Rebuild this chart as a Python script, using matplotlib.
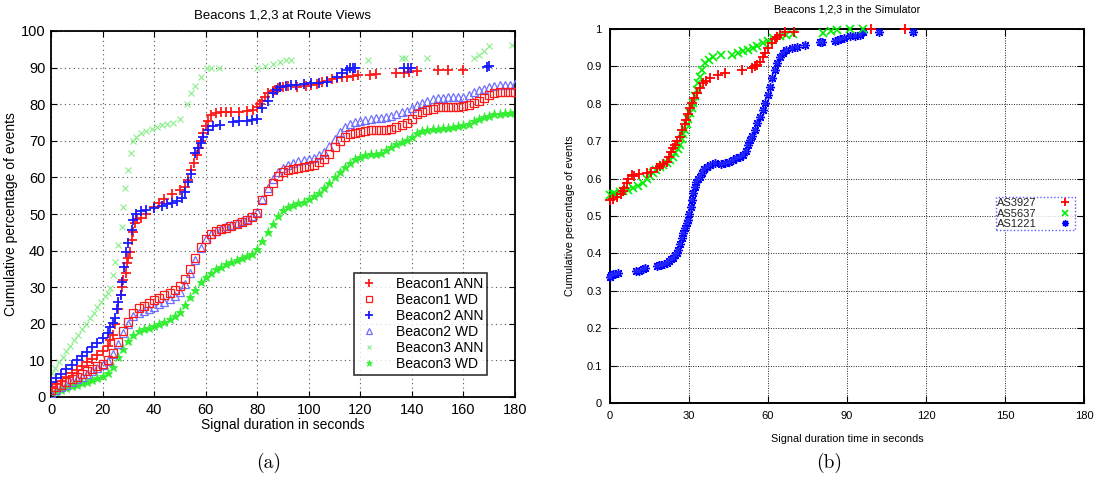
import matplotlib
matplotlib.use("Agg")
import matplotlib.pyplot as plt

plt.rcParams["font.family"] = ["Liberation Sans", "DejaVu Sans"]

# ---- panel (a): Beacons 1,2,3 at Route Views ----
wd_x = list(range(0, 182, 2))

b1_wd = [1.9, 2.6, 3.3, 4.0, 4.8, 5.5, 6.2, 7.0, 7.7, 8.4, 9.0, 10.0, 12.0, 15.0, 18.0, 20.5,
         23.0, 24.2, 24.9, 25.7, 26.5, 27.1, 27.8, 28.5, 29.2, 30.2, 32.2, 35.0, 38.0, 41.0,
         43.3, 44.6, 45.3, 45.8, 46.3, 46.8, 47.3, 47.8, 48.4, 49.2, 50.2, 53.8, 56.2, 58.5,
         60.3, 61.4, 61.9, 62.4, 62.7, 62.9, 63.2, 63.4, 64.2, 65.1, 66.5, 68.3, 69.9, 71.0,
         71.8, 72.2, 72.4, 72.8, 73.0, 73.0, 73.0, 73.0, 73.3, 73.9, 74.4, 75.0, 76.0, 77.2,
         77.9, 78.4, 78.8, 79.1, 79.2, 79.2, 79.2, 79.3, 79.4, 79.8, 80.4, 81.0, 81.8, 82.6,
         83.1, 83.3, 83.3, 83.3, 83.3]

b2_wd = [1.2, 1.9, 2.6, 3.3, 4.0, 4.8, 5.5, 6.3, 7.1, 8.0, 8.8, 9.8, 11.8, 14.6, 17.5, 20.0,
         22.0, 22.9, 23.4, 24.0, 24.6, 25.3, 26.0, 26.7, 27.5, 28.6, 30.8, 34.0, 37.5, 40.8,
         43.3, 44.6, 45.4, 46.0, 46.6, 47.1, 47.6, 48.1, 48.7, 49.5, 50.6, 54.0, 57.0, 59.6,
         61.6, 62.7, 63.3, 63.9, 64.4, 64.8, 65.1, 65.4, 66.1, 67.0, 68.6, 70.6, 72.4, 73.7,
         74.6, 75.1, 75.5, 75.8, 76.0, 76.2, 76.3, 76.5, 76.9, 77.4, 77.8, 78.2, 79.0, 79.8,
         80.4, 80.9, 81.3, 81.6, 81.8, 81.9, 82.0, 82.0, 82.1, 82.6, 83.3, 83.8, 84.2, 84.6,
         85.0, 85.2, 85.2, 85.3, 85.4]

b3_wd = [1.0, 1.5, 2.0, 2.4, 2.9, 3.3, 3.8, 4.2, 4.7, 5.2, 5.8, 6.6, 8.3, 11.0, 13.2, 15.3,
         17.0, 17.9, 18.5, 18.9, 19.4, 19.9, 20.5, 21.2, 22.0, 23.2, 25.2, 27.2, 29.2, 31.5,
         32.8, 34.0, 34.9, 35.6, 36.3, 37.0, 37.5, 38.0, 38.5, 39.2, 40.4, 42.5, 45.0, 47.4,
         49.4, 51.0, 51.9, 52.5, 52.9, 53.3, 54.0, 54.8, 55.7, 57.0, 58.5, 60.0, 61.5, 62.8,
         64.0, 64.9, 65.6, 66.0, 66.3, 66.5, 66.8, 67.5, 68.3, 69.0, 69.6, 70.2, 71.0, 72.0,
         72.8, 73.0, 73.2, 73.3, 73.4, 73.5, 73.8, 74.0, 74.2, 74.7, 75.4, 76.0, 76.5, 76.9,
         77.2, 77.4, 77.6, 77.7, 77.8]

b1_ann_x = [0, 2, 4, 6, 8, 10, 12, 14, 16, 18, 20, 22, 23, 24, 25, 26, 27, 27.5, 28, 29, 29.5,
            30, 30.7, 31.4, 32, 32.6, 33.5, 35, 37, 40, 42, 44, 47, 50, 52, 53.3, 54.5, 55.5,
            56.5, 57.5, 58, 59, 60, 61, 62, 64, 66, 68, 70, 73, 76, 78.5, 80, 81, 82, 83, 84,
            86, 87, 88, 89, 90, 92, 95.4, 99, 101, 103, 105, 107, 109, 111, 113, 115, 117, 119,
            123.7, 126, 134, 137, 139, 142, 150, 154, 160]
b1_ann_y = [2.5, 3.5, 4.5, 5.5, 6.5, 7.5, 8.5, 9.5, 10.5, 11.5, 12.5, 14, 15.5, 17, 20, 24, 28,
            30, 32, 34, 36.6, 38, 39.6, 43, 45, 47.5, 48.5, 49, 50, 52, 53, 54, 55.5, 56.6, 57.5,
            59.3, 62, 64, 66, 68, 70, 72, 74, 75.5, 77, 77.5, 77.8, 78, 78, 78, 78.2, 78.4, 79.2,
            80, 81, 82, 83, 83.5, 84, 84.3, 84.6, 84.8, 85, 84.7, 85, 85.2, 85.6, 86, 86.4, 86.8,
            87.2, 87.5, 87.5, 87.8, 88, 88, 88.3, 88.5, 88.6, 88.8, 89, 89.3, 89.3, 89.3]

b2_ann_x = [0, 2, 4, 6, 8, 10, 12, 14, 16, 18, 20, 22, 23, 24, 24.8, 25.5, 26, 27, 27.6, 28.4,
            29, 30, 31.4, 31.8, 33, 35, 37, 40, 43, 45, 47, 49, 51, 52, 53, 54.5, 56, 57, 58, 59,
            61, 63, 65.6, 70.7, 73, 76, 78, 80, 82, 84, 86, 87.5, 89, 91, 93, 95, 98, 101, 104,
            107, 111, 113, 115, 116, 117, 118, 137, 138.5, 139.6, 169, 170]
b2_ann_y = [4.2, 5.2, 6.4, 7.6, 8.8, 10, 11.2, 12.4, 13.6, 14.8, 16, 17.6, 19, 20.3, 21.6, 24,
            26, 28, 31.5, 35.6, 39.6, 42, 45.6, 48.4, 50, 50.8, 51.2, 51.7, 52.2, 52.6, 53, 53.5,
            54.5, 56, 58.7, 61, 66.6, 68, 69.4, 71, 73, 74, 74.3, 75.2, 75.3, 75.5, 75.6, 76, 79,
            81, 83, 84, 84.7, 85, 85.2, 85.3, 85.5, 85.8, 85.8, 86, 87.5, 88.5, 89.3, 89.8, 90,
            90, 90, 89.9, 89.9, 90.3, 90.5]

b3_ann_x = [0.3, 1.5, 3, 4.5, 6, 7.5, 9, 10.5, 12, 13.5, 15, 16.5, 18, 19.5, 21, 22, 23, 24, 25,
            26, 27.5, 28, 28.7, 30, 31, 32, 33, 35, 37, 39, 41, 43, 45, 47.5, 50, 52.6, 54.5, 56,
            58, 60.4, 62, 65, 80, 83, 86, 89, 91, 93, 123, 136, 137.5, 146, 164, 166, 168, 170,
            179]
b3_ann_y = [6.6, 8, 9.5, 11, 12.5, 14, 15.5, 17, 18.5, 20, 21.5, 23, 24.5, 26, 27.5, 28.5, 29.8,
            33.3, 37, 41.5, 46.4, 52, 57, 62, 66.6, 70, 71, 72, 72.8, 73.3, 73.8, 74.2, 74.6, 75,
            76, 80, 83, 85, 87.4, 90, 90, 90, 90, 90.5, 91, 91.5, 92, 92, 92, 92.6, 92.6, 92.5,
            92.6, 93.5, 94.5, 96, 96.2]

# ---- panel (b): Beacons 1,2,3 in the Simulator ----
as3927_x = [0, 1, 2.5, 4, 5, 5.5, 6.3, 7, 8.2, 9, 11, 14, 15.5, 17.7, 19, 20.3, 21.5, 22.5, 23.3,
            24, 24.8, 25.6, 26.6, 27.5, 28.3, 29, 29.7, 30.3, 31, 32, 33, 34.2, 35.4, 36.5, 38,
            41, 43.7, 50, 53.8, 55, 56, 57, 58, 58.9, 60, 61.4, 62.5, 63.5, 64.6, 66.4, 70, 99,
            112]
as3927_y = [0.543, 0.546, 0.552, 0.56, 0.566, 0.575, 0.588, 0.6, 0.61, 0.608, 0.612, 0.615,
            0.618, 0.628, 0.634, 0.64, 0.645, 0.658, 0.67, 0.682, 0.69, 0.7, 0.712, 0.73, 0.745,
            0.757, 0.772, 0.788, 0.802, 0.816, 0.829, 0.843, 0.855, 0.862, 0.869, 0.877, 0.882,
            0.89, 0.895, 0.9, 0.905, 0.912, 0.925, 0.935, 0.948, 0.962, 0.972, 0.978, 0.984,
            0.992, 0.993, 1.0, 1.0]

as5637_x = [0, 1, 2, 3.8, 5, 7, 8.8, 10.5, 12.7, 14, 15.3, 16.4, 17.5, 19, 20.2, 21.5, 22.8, 24,
            24.8, 25.8, 26.6, 27.2, 27.9, 28.5, 29.1, 29.8, 30.4, 31, 31.6, 32.3, 33, 33.6, 34.2,
            35, 36, 37.5, 39.2, 42, 46.2, 48.5, 50.6, 52.5, 54.4, 56, 58, 60, 62, 64.5, 67, 69.6,
            81, 84, 86.3, 91, 96]
as5637_y = [0.556, 0.558, 0.56, 0.565, 0.567, 0.57, 0.575, 0.58, 0.588, 0.598, 0.607, 0.615,
            0.622, 0.63, 0.637, 0.643, 0.65, 0.658, 0.668, 0.68, 0.69, 0.705, 0.718, 0.73, 0.745,
            0.76, 0.775, 0.788, 0.802, 0.82, 0.837, 0.855, 0.872, 0.89, 0.909, 0.918, 0.926,
            0.93, 0.93, 0.935, 0.94, 0.945, 0.949, 0.955, 0.962, 0.969, 0.976, 0.98, 0.984,
            0.986, 0.99, 0.995, 0.997, 1.0, 1.0]

as1221_x = [0, 0.5, 1, 2, 3.2, 10, 11, 12.5, 13.3, 17.7, 18.5, 19.5, 20.5, 21.5, 22.5, 23.3, 24,
            24.8, 25.5, 26, 26.6, 27.2, 27.8, 28.5, 29.1, 29.6, 30.1, 30.6, 31.1, 31.6, 32.2,
            32.8, 33.5, 34.2, 35, 35.8, 36.7, 38, 39.9, 42, 43.7, 45, 46.8, 48, 49.3, 50.6, 51.5,
            52.5, 53.2, 54, 55, 56, 57, 58, 59, 59.9, 60.8, 61.7, 62.7, 63.6, 64.6, 65.8, 67, 69,
            70.9, 74, 79.8, 80.5, 85.5, 86.5, 87.4, 89, 91, 93, 95, 96, 102, 115]
as1221_y = [0.338, 0.342, 0.344, 0.346, 0.347, 0.352, 0.354, 0.358, 0.361, 0.366, 0.368, 0.37,
            0.372, 0.374, 0.379, 0.384, 0.388, 0.396, 0.402, 0.409, 0.425, 0.44, 0.455, 0.468,
            0.48, 0.489, 0.505, 0.525, 0.543, 0.561, 0.577, 0.59, 0.598, 0.605, 0.615, 0.625,
            0.632, 0.637, 0.641, 0.64, 0.641, 0.645, 0.65, 0.654, 0.657, 0.663, 0.675, 0.69,
            0.703, 0.715, 0.73, 0.748, 0.766, 0.784, 0.802, 0.824, 0.846, 0.868, 0.89, 0.908,
            0.926, 0.937, 0.944, 0.949, 0.953, 0.957, 0.964, 0.965, 0.967, 0.97, 0.973, 0.976,
            0.98, 0.982, 0.984, 0.993, 0.992, 0.993]

RED = "#ff1a1a"
BLUE = "#1a1aff"
LBLUE = "#6f6fff"
GREEN = "#33ee33"
LGREEN = "#88ee88"

fig = plt.figure(figsize=(11.02, 4.8), dpi=100)

# ----- left panel -----
ax = fig.add_axes([51 / 1102, 1 - 397 / 480, 464 / 1102, 366 / 480])
ax.plot(wd_x, b3_wd, ls="none", marker="*", ms=6.5, color=GREEN, mew=0.6, label="Beacon3 WD", zorder=2)
ax.plot(wd_x, b2_wd, ls="none", marker="^", ms=5.5, mfc="none", mec=LBLUE, mew=0.9, label="Beacon2 WD", zorder=3)
ax.plot(wd_x, b1_wd, ls="none", marker="s", ms=5.5, mfc="none", mec=RED, mew=0.9, label="Beacon1 WD", zorder=3)
ax.plot(b3_ann_x, b3_ann_y, ls="none", marker="x", ms=4, color=LGREEN, mew=0.8, label="Beacon3 ANN", zorder=2)
ax.plot(b1_ann_x, b1_ann_y, ls="none", marker="+", ms=7, color=RED, mew=1.3, label="Beacon1 ANN", zorder=4)
ax.plot(b2_ann_x, b2_ann_y, ls="none", marker="+", ms=7, color=BLUE, mew=1.3, label="Beacon2 ANN", zorder=4)

ax.set_xlim(0, 180)
ax.set_ylim(0, 100)
ax.set_xticks(range(0, 181, 20))
ax.set_yticks(range(0, 101, 10))
ax.tick_params(direction="in", top=True, right=True, labelsize=10.5, length=4, pad=4)
ax.grid(True, color="#555555", linestyle=(0, (1, 3)), linewidth=0.8)
for s in ax.spines.values():
    s.set_linewidth(1.3)
ax.set_title("Beacons 1,2,3 at Route Views", fontsize=9.5, pad=9)
ax.set_xlabel("Signal duration in seconds", fontsize=10, labelpad=1)
ax.set_ylabel("Cumulative percentage of events", fontsize=10, labelpad=2)

handles, labels = ax.get_legend_handles_labels()
order = ["Beacon1 ANN", "Beacon1 WD", "Beacon2 ANN", "Beacon2 WD", "Beacon3 ANN", "Beacon3 WD"]
hmap = dict(zip(labels, handles))
leg = ax.legend([hmap[k] for k in order], order, loc="lower right",
                bbox_to_anchor=(0.955, 0.04), fontsize=10, frameon=True, fancybox=False,
                edgecolor="black", handlelength=1.6, labelspacing=0.15, borderpad=0.3,
                markerscale=0.75, handletextpad=1.1)
leg.get_frame().set_linewidth(1.2)

# ----- right panel -----
bx = fig.add_axes([610 / 1102, 1 - 403 / 480, 474 / 1102, 374 / 480])
bx.plot(as1221_x, as1221_y, ls="none", marker=(8, 2, 0), ms=6.5, color="#0000ff", mew=1.0,
        label="AS1221", zorder=3, clip_on=False)
bx.plot(as1221_x, as1221_y, ls="none", marker="s", ms=3.5, color="#2222ff", mew=0,
        zorder=3, clip_on=False)
bx.plot(as5637_x, as5637_y, ls="none", marker="x", ms=6, color="#00ee00", mew=1.2,
        label="AS5637", zorder=4, clip_on=False)
bx.plot(as3927_x, as3927_y, ls="none", marker="+", ms=7, color="#ff0000", mew=1.3,
        label="AS3927", zorder=5, clip_on=False)
bx.set_xlim(0, 180)
bx.set_ylim(0, 1)
bx.set_xticks(range(0, 181, 30))
bx.set_yticks([i / 10 for i in range(11)])
bx.set_yticklabels(["0", "0.1", "0.2", "0.3", "0.4", "0.5", "0.6", "0.7", "0.8", "0.9", "1"])
bx.tick_params(direction="in", top=True, right=True, labelsize=8, length=5, pad=6)
bx.grid(True, color="#222222", linestyle=(0, (1, 1.5)), linewidth=0.7)
for s in bx.spines.values():
    s.set_linewidth(1.4)
bx.set_title("Beacons 1,2,3 in the Simulator", fontsize=7.7, pad=12)
bx.set_xlabel("Signal duration time in seconds", fontsize=7.8, labelpad=9)
bx.set_ylabel("Cumulative percentage of events", fontsize=7.8, labelpad=8)

h2, l2 = bx.get_legend_handles_labels()
m2 = dict(zip(l2, h2))
order2 = ["AS3927", "AS5637", "AS1221"]
leg2 = bx.legend([m2[k] for k in order2], order2, loc="upper left",
                 bbox_to_anchor=(386 / 474, 1 - 168 / 374), fontsize=8, frameon=True,
                 fancybox=False, edgecolor="#3333ff", markerfirst=False, handlelength=1.5,
                 labelspacing=0.05, borderpad=0.1, handletextpad=1.8, borderaxespad=0,
                 markerscale=0.75)
leg2.get_frame().set_linestyle((0, (1, 1.5)))
leg2.get_frame().set_linewidth(1.0)
for t in leg2.get_texts():
    t.set_color("#222222")

# captions
fig.text(269 / 1102, 1 - 463 / 480, "(a)", family="cmr10", fontsize=14, ha="center", va="center")
fig.text(829 / 1102, 1 - 463 / 480, "(b)", family="cmr10", fontsize=14, ha="center", va="center")

fig.savefig("out.png", dpi=100)
